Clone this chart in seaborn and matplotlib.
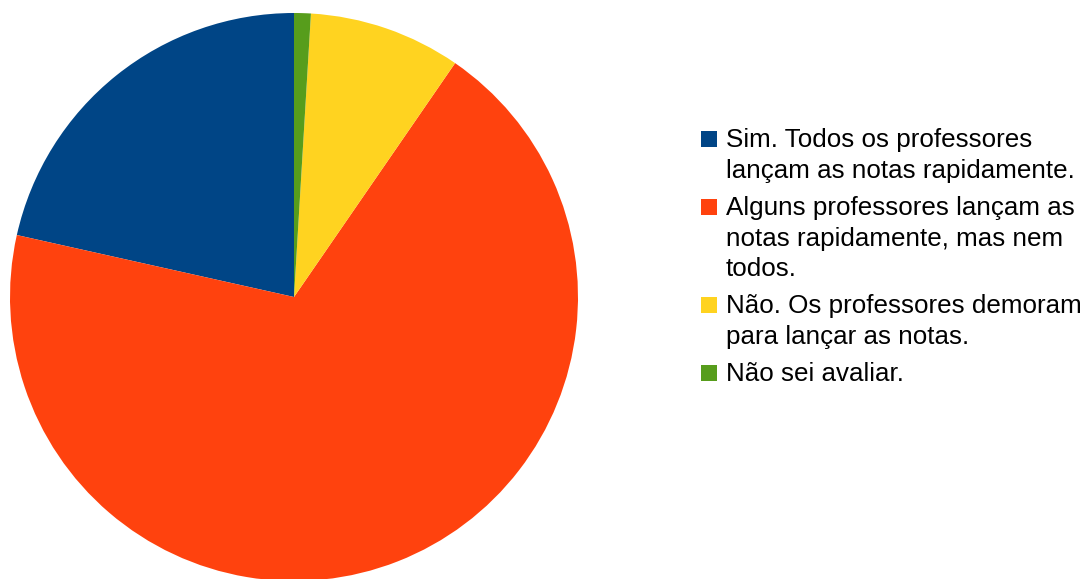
import numpy as np
import seaborn as sns
import matplotlib.pyplot as plt
from matplotlib.patches import Rectangle

# survey answers (share of responses, %)
labels = [
    "Sim. Todos os professores\nlançam as notas rapidamente.",
    "Alguns professores lançam as\nnotas rapidamente, mas nem\ntodos.",
    "Não. Os professores demoram\npara lançar as notas.",
    "Não sei avaliar.",
]
values = [21.5, 68.9, 8.65, 0.95]
colors = ["#004586", "#ff420e", "#ffd320", "#579d1c"]

sns.set_style("white")
plt.rcParams['font.family'] = ['Liberation Sans', 'DejaVu Sans']

W, H = 1086, 579
fig = plt.figure(figsize=(W / 100, H / 100), dpi=100)

# pie: centre (294, 297) px, radius 284 px
cx, cy, r = 294, 297, 284
ax = fig.add_axes([(cx - r) / W, (H - cy - r) / H, 2 * r / W, 2 * r / H])
ax.pie(values, colors=sns.color_palette(colors), startangle=90, counterclock=True,
       radius=1, wedgeprops=dict(linewidth=0))
ax.set_xlim(-1, 1)
ax.set_ylim(-1, 1)
ax.set_aspect('equal')
ax.axis('off')

# legend, drawn by hand so each square sits on the first line
line_h = 30.5
gap = 6.8
y = 147.3
for lab, col in zip(labels, colors):
    fig.patches.append(Rectangle((701 / W, (H - y) / H), 16 / W, 16 / H,
                                 transform=fig.transFigure, color=col, lw=0))
    for k, part in enumerate(lab.split("\n")):
        fig.text(726 / W, (H - y) / H, part, fontsize=18.7, va='baseline',
                 ha='left', color='#000000')
        y += line_h
    y += gap

fig.savefig("out.png", dpi=100)
